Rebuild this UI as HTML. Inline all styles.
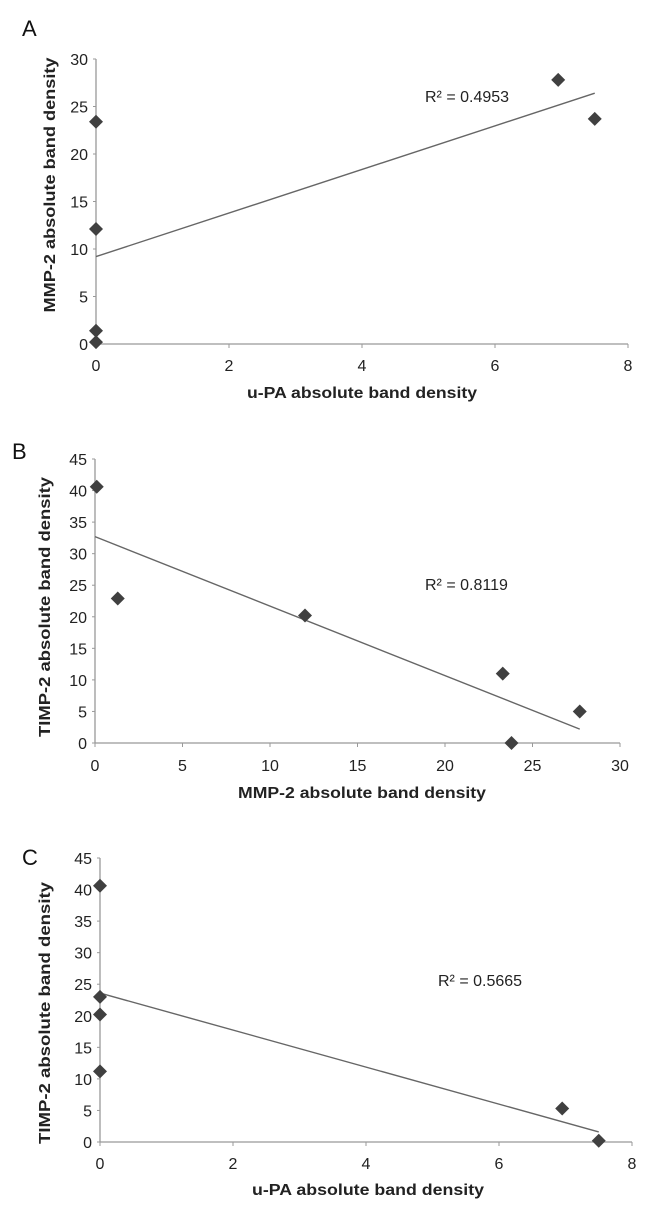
<!DOCTYPE html>
<html><head><meta charset="utf-8"><style>
html,body{margin:0;padding:0;background:#fff;}
svg{display:block;font-family:"Liberation Sans",Arial,sans-serif;}
</style></head><body>
<svg id="fig" width="649" height="1212" viewBox="0 0 649 1212" xmlns="http://www.w3.org/2000/svg"></svg>
<script>
// Panel A data
const aX = [0, 0, 0, 0, 6.95, 7.5];
const aY = [23.4, 12.1, 1.4, 0.2, 27.8, 23.7];
const aTrend = [[0, 9.2], [7.5, 26.4]];
const aXTicks = [0, 2, 4, 6, 8];
const aYTicks = [0, 5, 10, 15, 20, 25, 30];
// Panel B data
const bX = [0.1, 1.3, 12, 23.3, 27.7, 23.8];
const bY = [40.6, 22.9, 20.2, 11, 5, 0];
const bTrend = [[0, 32.7], [27.7, 2.2]];
const bXTicks = [0, 5, 10, 15, 20, 25, 30];
const bYTicks = [0, 5, 10, 15, 20, 25, 30, 35, 40, 45];
// Panel C data
const cX = [0, 0, 0, 0, 6.95, 7.5];
const cY = [40.6, 23, 20.2, 11.2, 5.3, 0.2];
const cTrend = [[0, 23.6], [7.5, 1.6]];
const cXTicks = [0, 2, 4, 6, 8];
const cYTicks = [0, 5, 10, 15, 20, 25, 30, 35, 40, 45];

const NS = "http://www.w3.org/2000/svg";
const svg = document.getElementById('fig');
function mk(tag, attrs, parent, text) {
  const e = document.createElementNS(NS, tag);
  for (const k in attrs) e.setAttribute(k, attrs[k]);
  if (text !== undefined) e.textContent = text;
  (parent || svg).appendChild(e);
  return e;
}

function panel(cfg) {
  const g = mk('g', {});
  
  
  const xMax = cfg.xTicks[cfg.xTicks.length - 1], yMax = cfg.yTicks[cfg.yTicks.length - 1];
  const sx = v => cfg.x0 + (v / xMax) * (cfg.x1 - cfg.x0);
  const sy = v => cfg.y0 - (v / yMax) * (cfg.y0 - cfg.y1);
  const lbl = mk('text', {x: cfg.lx, y: cfg.ly, 'font-size': 22, fill: '#111'}, g, cfg.id.toUpperCase());
  
  
  const ya = mk('line', {x1: sx(0), y1: sy(0), x2: sx(0), y2: sy(yMax), stroke: '#999', 'stroke-width': 1.3}, g);
  
  
  const xa = mk('line', {x1: sx(0), y1: sy(0), x2: sx(xMax), y2: sy(0), stroke: '#999', 'stroke-width': 1.3}, g);
  
  
  cfg.yTicks.forEach(t => {
    mk('line', {x1: sx(0) - 3, y1: sy(t), x2: sx(0), y2: sy(t), stroke: '#999', 'stroke-width': 1}, g);
    const tl = mk('text', {x: sx(0) - 8, y: sy(t) + 6, 'font-size': 16, 'text-anchor': 'end', fill: '#222'}, g, String(t));
    
    
  });
  cfg.xTicks.forEach(t => {
    mk('line', {x1: sx(t), y1: sy(0), x2: sx(t), y2: sy(0) + 4, stroke: '#999', 'stroke-width': 1}, g);
    const tl = mk('text', {x: sx(t), y: cfg.xty, 'font-size': 16, 'text-anchor': 'middle', fill: '#222'}, g, String(t));
    
    
  });
  const xt = mk('text', {x: cfg.xtx, y: cfg.xtitleY, 'font-size': 16, 'font-weight': 'bold', 'text-anchor': 'middle', fill: '#222', textLength: cfg.xtLen, lengthAdjust: 'spacingAndGlyphs'}, g, cfg.xTitle);
  
  
  const yt = mk('text', {x: 0, y: 0, 'font-size': 16, 'font-weight': 'bold', 'text-anchor': 'middle', fill: '#222', textLength: cfg.ytLen, lengthAdjust: 'spacingAndGlyphs', transform: 'translate(' + cfg.ytx + ',' + cfg.yty + ') rotate(-90)'}, g, cfg.yTitle);
  
  
  const tr = mk('line', {x1: sx(cfg.trend[0][0]), y1: sy(cfg.trend[0][1]), x2: sx(cfg.trend[1][0]), y2: sy(cfg.trend[1][1]), stroke: '#666', 'stroke-width': 1.4}, g);
  
  
  cfg.xs.forEach((xv, i) => {
    const cx = sx(xv), cy = sy(cfg.ys[i]), r = 7;
    const p = mk('polygon', {points: `${cx},${cy - r} ${cx + r},${cy} ${cx},${cy + r} ${cx - r},${cy}`, fill: '#404040'}, g);
    
    
  });
  const r2 = mk('text', {x: cfg.r2x, y: cfg.r2y, 'font-size': 16, fill: '#222'}, g, cfg.r2);
  
  
}

panel({id: 'a', xs: aX, ys: aY, trend: aTrend, xTicks: aXTicks, yTicks: aYTicks,
  x0: 96, x1: 628, y0: 344, y1: 59, lx: 22, ly: 36, xty: 371, xtx: 362, xtitleY: 398, xtLen: 230,
  ytx: 55, yty: 185, ytLen: 255,
  xTitle: 'u-PA absolute band density', yTitle: 'MMP-2 absolute band density',
  r2: 'R² = 0.4953', r2x: 425, r2y: 102});
panel({id: 'b', xs: bX, ys: bY, trend: bTrend, xTicks: bXTicks, yTicks: bYTicks,
  x0: 95, x1: 620, y0: 743, y1: 459, lx: 12, ly: 459, xty: 771, xtx: 362, xtitleY: 798, xtLen: 248,
  ytx: 50, yty: 607, ytLen: 260,
  xTitle: 'MMP-2 absolute band density', yTitle: 'TIMP-2 absolute band density',
  r2: 'R² = 0.8119', r2x: 425, r2y: 590});
panel({id: 'c', xs: cX, ys: cY, trend: cTrend, xTicks: cXTicks, yTicks: cYTicks,
  x0: 100, x1: 632, y0: 1142, y1: 858, lx: 22, ly: 865, xty: 1169, xtx: 368, xtitleY: 1195, xtLen: 232,
  ytx: 50, yty: 1013, ytLen: 262,
  xTitle: 'u-PA absolute band density', yTitle: 'TIMP-2 absolute band density',
  r2: 'R² = 0.5665', r2x: 438, r2y: 986});
</script>
</body></html>
